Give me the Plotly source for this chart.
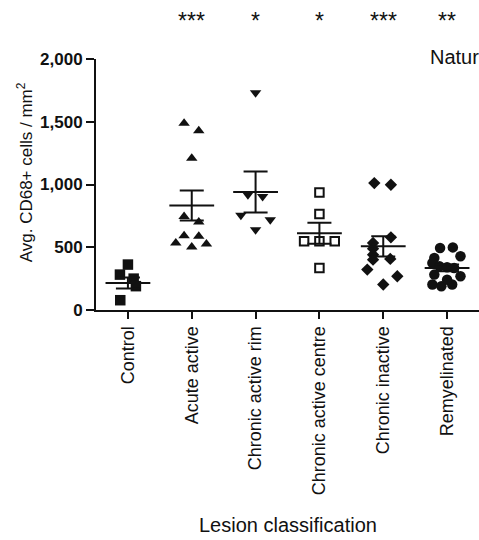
import plotly.graph_objects as go

categories = ["Control", "Acute active", "Chronic active rim",
              "Chronic active centre", "Chronic inactive", "Remyelinated"]

control = [362, 282, 250, 190, 78]
control_off = [0.0, -0.125, 0.09, 0.125, -0.12]

acute = [1488, 1429, 1210, 746, 701, 592, 587, 534, 502, 526]
acute_off = [-0.12, 0.11, 0.0, -0.12, 0.11, -0.12, 0.11, -0.25, 0.0, 0.23]

rim = [1732, 918, 905, 754, 719, 640]
rim_off = [0.0, -0.12, 0.11, -0.23, 0.23, 0.0]

centre = [936, 765, 547, 547, 547, 335]
centre_off = [0.0, 0.0, -0.24, 0.0, 0.24, 0.0]

inactive = [1011, 998, 579, 534, 489, 441, 401, 407, 322, 269, 203]
inactive_off = [-0.14, 0.12, 0.12, -0.16, -0.16, -0.16, -0.16, 0.11, -0.25, 0.22, 0.0]

remyelinated = [494, 499, 428, 415, 375, 348, 340, 335, 269, 282, 203, 189, 203, 242]
remyelinated_off = [-0.11, 0.09, 0.21, -0.2, -0.23, -0.12, 0.0, 0.11, 0.21, -0.2, -0.23, -0.09, 0.08, 0.0]

means = [215, 833, 940, 612, 507, 335]
sems = [43, 120, 163, 84, 80, 27]

stars = ["", "***", "*", "*", "***", "**"]

groups = [control, acute, rim, centre, inactive, remyelinated]
offsets = [control_off, acute_off, rim_off, centre_off, inactive_off, remyelinated_off]
symbols = ["square", "triangle-up", "triangle-down", "square-open", "diamond", "circle"]
sizes = [10.5, 10, 10, 8.5, 9.5, 10.5]

INK = "#111111"
FONT = "Liberation Sans, Arial, Helvetica, sans-serif"

fig = go.Figure()

for i, (vals, offs) in enumerate(zip(groups, offsets)):
    open_sym = symbols[i].endswith("open")
    fig.add_trace(go.Scatter(
        x=[i + o for o in offs], y=vals, mode="markers",
        marker=dict(symbol=symbols[i], size=sizes[i], color=INK,
                    line=dict(width=2 if open_sym else 0, color=INK)),
        showlegend=False, hoverinfo="y"))

fig.add_trace(go.Scatter(
    x=list(range(len(categories))), y=means, mode="markers",
    marker=dict(symbol="line-ew", size=32, color=INK,
                line=dict(width=2, color=INK)),
    error_y=dict(type="data", array=sems, symmetric=True, width=12,
                 thickness=2, color=INK),
    showlegend=False, hoverinfo="y"))

annotations = []
for i, s in enumerate(stars):
    if s:
        annotations.append(dict(x=i, y=(310.5 - 21) / 251.5, xref="x", yref="paper",
                                text=s, showarrow=False, xanchor="center", yanchor="middle",
                                font=dict(family=FONT, size=23, color=INK)))

annotations.append(dict(x=(428 - 96) / 383, y=(310.5 - 57) / 251.5, xref="paper", yref="paper",
                        text="Natur", showarrow=False, xanchor="left", yanchor="middle",
                        font=dict(family=FONT, size=20, color=INK)))

annotations.append(dict(x=(25 - 96) / 383, y=(310.5 - 172.5) / 251.5, xref="paper", yref="paper",
                        text="Avg. CD68+ cells / mm<sup>2</sup>", textangle=-90, showarrow=False,
                        xanchor="center", yanchor="middle",
                        font=dict(family=FONT, size=17, color=INK)))

annotations.append(dict(x=(288 - 96) / 383, y=(310.5 - 526) / 251.5, xref="paper", yref="paper",
                        text="Lesion classification", showarrow=False,
                        xanchor="center", yanchor="middle",
                        font=dict(family=FONT, size=20, color=INK)))

fig.update_layout(
    width=479, height=540,
    margin=dict(l=96, r=0, t=59, b=230),
    paper_bgcolor="white", plot_bgcolor="white",
    font=dict(family=FONT, color=INK),
    annotations=annotations,
    xaxis=dict(range=[-0.5, 5.5], tickmode="array", tickvals=list(range(len(categories))),
               ticktext=categories, tickangle=-90, ticks="outside", ticklen=7, tickwidth=2,
               tickcolor=INK, showline=True, linewidth=2, linecolor=INK, showgrid=False,
               zeroline=False, tickfont=dict(family=FONT, size=18, color=INK)),
    yaxis=dict(range=[0, 2000], tickvals=[0, 500, 1000, 1500, 2000], tickformat=",d",
               ticks="outside", ticklen=8, tickwidth=2, tickcolor=INK, showline=True,
               linewidth=2, linecolor=INK, showgrid=False, zeroline=False,
               tickfont=dict(family=FONT, size=17, color=INK, weight="bold")),
)

fig.write_html("out.html")
